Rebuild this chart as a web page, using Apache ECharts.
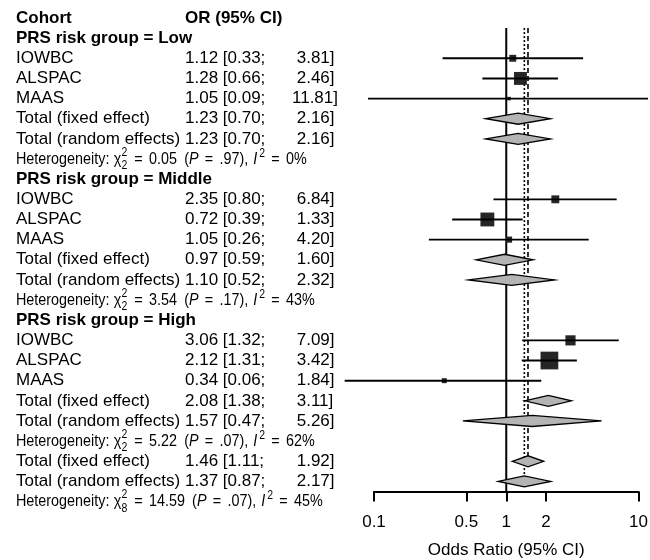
<!DOCTYPE html>
<html>
<head>
<meta charset="utf-8">
<script src="https://cdn.jsdelivr.net/npm/echarts@6/dist/echarts.min.js"></script>
<style>
html, body { margin: 0; padding: 0; background: #fff; }
#main { width: 650px; height: 560px; }
</style>
</head>
<body>
<div id="main"></div>
<script>
const groupNames = ['Low', 'Middle', 'High'];
const cohortNames = ['IOWBC', 'ALSPAC', 'MAAS'];
// studies in order Low / Middle / High, each IOWBC, ALSPAC, MAAS
const studyOR = [1.12, 1.28, 1.05, 2.35, 0.72, 1.05, 3.06, 2.12, 0.34];
const studyLower = [0.33, 0.66, 0.09, 0.80, 0.39, 0.26, 1.32, 1.31, 0.06];
const studyUpper = [3.81, 2.46, 11.81, 6.84, 1.33, 4.20, 7.09, 3.42, 1.84];
const studyWeight = [5.0, 17.4, 1.3, 6.5, 20.0, 3.9, 10.7, 32.7, 2.6]; // fixed effect weight, %
// pooled: Low, Middle, High, overall
const fixedOR = [1.23, 0.97, 2.08, 1.46];
const fixedLower = [0.70, 0.59, 1.38, 1.11];
const fixedUpper = [2.16, 1.60, 3.11, 1.92];
const randomOR = [1.23, 1.10, 1.57, 1.37];
const randomLower = [0.70, 0.52, 0.47, 0.87];
const randomUpper = [2.16, 2.32, 5.26, 2.17];
const hetChi2 = ['0.05', '3.54', '5.22', '14.59'];
const hetDf = ['2', '2', '2', '8'];
const hetP = ['.97', '.17', '.07', '.07'];
const hetI2 = ['0%', '43%', '62%', '45%'];
const tickValues = [0.1, 0.5, 1, 2, 10];

const FONT = '"Liberation Sans", Arial, sans-serif';
const COL_LABEL = 16, COL_OR = 185, COL_UP = 292;

// build the table rows
const rows = [];
rows.push({ kind: 'title' });
function addPooled(k) {
  rows.push({ kind: 'fixed', label: 'Total (fixed effect)', est: fixedOR[k], lo: fixedLower[k], hi: fixedUpper[k] });
  rows.push({ kind: 'random', label: 'Total (random effects)', est: randomOR[k], lo: randomLower[k], hi: randomUpper[k] });
  rows.push({ kind: 'het', k: k });
}
groupNames.forEach((g, gi) => {
  rows.push({ kind: 'group', label: 'PRS risk group = ' + g });
  cohortNames.forEach((c, ci) => {
    const k = gi * 3 + ci;
    rows.push({ kind: 'study', label: c, est: studyOR[k], lo: studyLower[k], hi: studyUpper[k], w: studyWeight[k] });
  });
  addPooled(gi);
});
addPooled(3);
rows.forEach((r, i) => { r.row = i; });
const overallFixedRow = rows.filter(r => r.kind === 'fixed').pop().row;
const overallRandomRow = rows.filter(r => r.kind === 'random').pop().row;
const axisRow = rows.length - 1.5;

const measureCtx = document.createElement('canvas').getContext('2d');
function textWidth(str, size, italic) {
  measureCtx.font = (italic ? 'italic ' : '') + size + 'px ' + FONT;
  return measureCtx.measureText(str).width;
}

function fmtUpper(v) {
  const s = v.toFixed(2);
  return (s.length < 5 ? ' ' : '') + s + ']';
}

function txt(x, y, str, size, opts) {
  opts = opts || {};
  return {
    type: 'text', x: x, y: y,
    scaleX: opts.sx || 1,
    style: {
      text: str, fill: '#000', align: 'left', verticalAlign: 'middle',
      fontFamily: FONT, fontSize: size,
      fontWeight: opts.bold ? 'bold' : 'normal',
      fontStyle: opts.italic ? 'italic' : 'normal'
    }
  };
}

// heterogeneity line: narrower type, like the original plotmath text
function hetPieces(k, y) {
  const BASE = 16.5, SMALL = 12, SX = 0.87;
  const out = [];
  let x = COL_LABEL;
  function put(str, size, dy, italic, advance) {
    out.push(txt(x, y + (dy || 0), str, size, { italic: italic, sx: SX }));
    if (advance !== false) x += textWidth(str, size, italic) * SX;
  }
  function eq() { x += 6.3; put('=', BASE); x += 6.3; }
  put('Heterogeneity:', BASE); x += 4.5;
  put('\u03c7', BASE);
  put('2', SMALL, -6.5, false, false);
  put(hetDf[k], SMALL, 7); x += 0.8;
  eq();
  put(hetChi2[k], BASE); x += 7.2;
  put('(', BASE);
  put('P', BASE, 0, true);
  eq();
  put(hetP[k] + '),', BASE); x += 5;
  put('I', BASE, 0, true); x += 2;
  put('2', SMALL, -5.5);
  eq();
  put(hetI2[k], BASE);
  return out;
}

const chart = echarts.init(document.getElementById('main'));

chart.setOption({
  animation: false,
  backgroundColor: '#fff',
  grid: { left: 374, right: 11.5, top: 7.9, bottom: 68.5, outerBoundsMode: 'none', containLabel: false },
  xAxis: {
    type: 'log',
    logBase: 10,
    position: 'bottom',
    min: 0.1,
    max: 10,
    name: 'Odds Ratio (95% CI)',
    nameLocation: 'middle',
    nameGap: 50,
    nameTextStyle: { fontFamily: FONT, fontSize: 17, color: '#000' },
    axisLine: { show: true, onZero: false, lineStyle: { color: '#000', width: 2 } },
    axisTick: { show: true, length: 10, customValues: tickValues, lineStyle: { color: '#000', width: 2 } },
    axisLabel: {
      customValues: tickValues,
      margin: 22,
      fontFamily: FONT,
      fontSize: 17,
      color: '#000',
      formatter: v => String(v)
    },
    splitLine: { show: false },
    minorTick: { show: false }
  },
  yAxis: {
    type: 'value',
    inverse: true,
    min: -0.5,
    max: axisRow,
    show: false
  },
  series: [
    {
      // reference lines: no effect, fixed, random
      type: 'custom',
      z: 1,
      encode: { x: 0, y: 1 },
      data: [
        [1, 0.5, axisRow],
        [fixedOR[3], 0.5, overallFixedRow],
        [randomOR[3], 0.5, overallRandomRow]
      ],
      renderItem: function (params, api) {
        const top = api.coord([api.value(0), api.value(1)]);
        const bot = api.coord([api.value(0), api.value(2)]);
        const kind = params.dataIndex;
        const dash = kind === 0 ? null : (kind === 1 ? [5, 3] : [2, 2]);
        return {
          type: 'line',
          shape: { x1: top[0], y1: top[1], x2: bot[0], y2: bot[1] },
          style: { stroke: '#000', lineWidth: kind === 0 ? 2 : 1.6, lineDash: dash }
        };
      }
    },
    {
      // study estimates
      type: 'custom',
      z: 3,
      encode: { x: 0, y: 1 },
      data: rows.filter(r => r.kind === 'study').map(r => [r.est, r.row, r.lo, r.hi, r.w]),
      renderItem: function (params, api) {
        const row = api.value(1);
        const p = api.coord([api.value(0), row]);
        const pl = api.coord([api.value(2), row]);
        const ph = api.coord([api.value(3), row]);
        const side = 3.1 * Math.sqrt(api.value(4));
        return {
          type: 'group',
          children: [
            { type: 'rect', shape: { x: p[0] - side / 2, y: p[1] - side / 2, width: side, height: side }, style: { fill: '#262626' } },
            { type: 'line', shape: { x1: pl[0], y1: p[1], x2: ph[0], y2: p[1] }, style: { stroke: '#000', lineWidth: 1.9 } }
          ]
        };
      }
    },
    {
      // pooled diamonds
      type: 'custom',
      z: 4,
      encode: { x: 0, y: 1 },
      data: rows.filter(r => r.kind === 'fixed' || r.kind === 'random').map(r => [r.est, r.row, r.lo, r.hi]),
      renderItem: function (params, api) {
        const row = api.value(1);
        const p = api.coord([api.value(0), row]);
        const pl = api.coord([api.value(2), row]);
        const ph = api.coord([api.value(3), row]);
        const h = 5.5;
        return {
          type: 'polygon',
          shape: { points: [[pl[0], p[1]], [p[0], p[1] - h], [ph[0], p[1]], [p[0], p[1] + h]] },
          style: { fill: '#b4b4b4', stroke: '#000', lineWidth: 1.3 }
        };
      }
    },
    {
      // text columns
      type: 'custom',
      z: 5,
      encode: { x: 0, y: 1 },
      data: rows.map(r => [1, r.row]),
      renderItem: function (params, api) {
        const r = rows[params.dataIndex];
        const y = api.coord([1, r.row])[1];
        let children;
        if (r.kind === 'title') {
          children = [txt(COL_LABEL, y, 'Cohort', 17, { bold: true }), txt(COL_OR, y, 'OR (95% CI)', 17, { bold: true })];
        } else if (r.kind === 'group') {
          children = [txt(COL_LABEL, y, r.label, 17, { bold: true })];
        } else if (r.kind === 'het') {
          children = hetPieces(r.k, y);
        } else {
          children = [
            txt(COL_LABEL, y, r.label, 17),
            txt(COL_OR, y, r.est.toFixed(2) + ' [' + r.lo.toFixed(2) + ';', 17),
            txt(COL_UP, y, fmtUpper(r.hi), 17)
          ];
        }
        return { type: 'group', children: children };
      }
    }
  ]
});
</script>
</body>
</html>
